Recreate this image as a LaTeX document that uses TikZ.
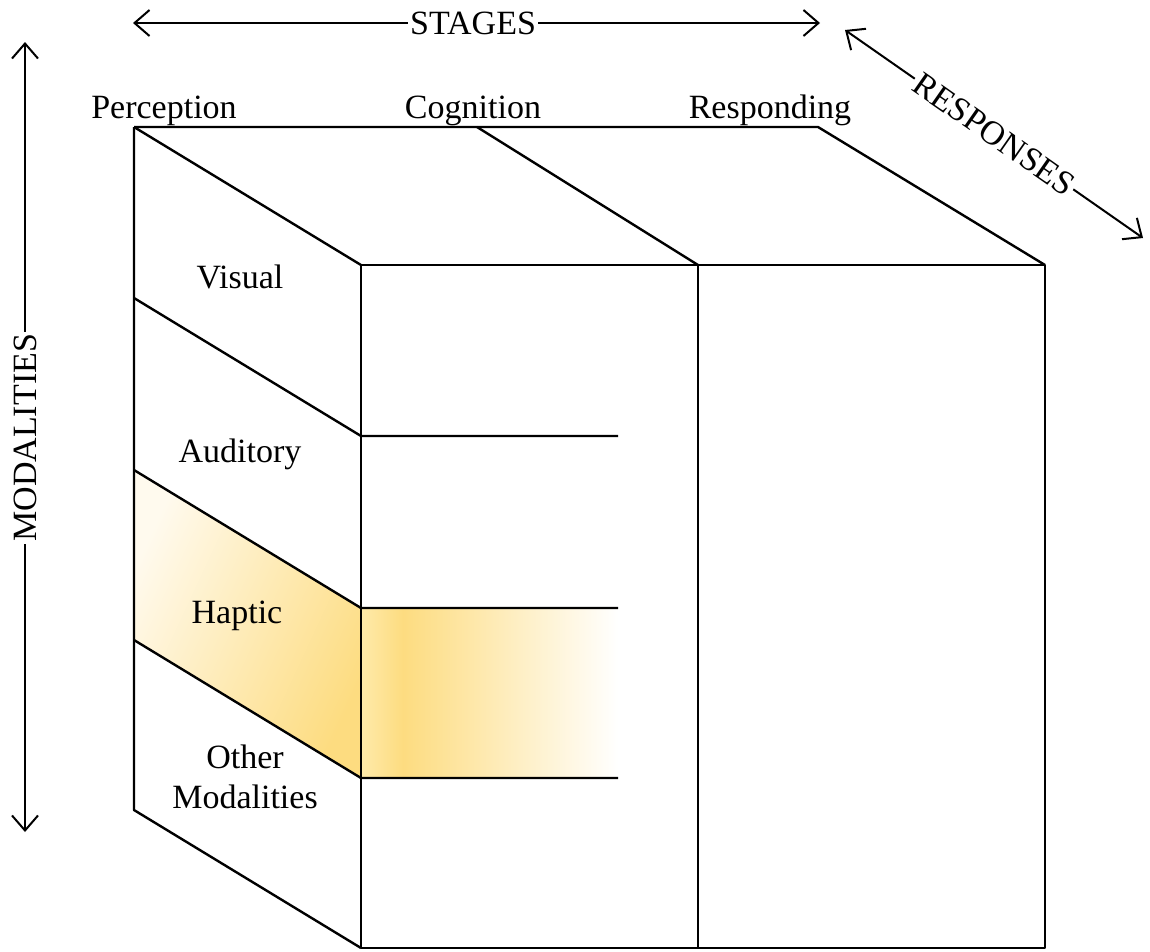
\documentclass[tikz,border=0pt]{standalone}
\usepackage{fontspec}
\setmainfont{Liberation Serif}
\usetikzlibrary{arrows.meta}
\definecolor{gold}{HTML}{FDDC80}
\definecolor{paleA}{HTML}{FEEAAA}
\definecolor{paleB}{HTML}{FFFAEE}
\tikzset{
  edge/.style={line width=2.4pt, line join=round},
  dim/.style={line width=2pt, {Straight Barb[length=15pt,width=26pt,line width=2pt]}-{Straight Barb[length=15pt,width=26pt,line width=2pt]}},
  lab/.style={font=\fontsize{34}{40}\selectfont, inner sep=0pt, anchor=base},
  axlab/.style={font=\fontsize{34}{40}\selectfont, fill=white, inner xsep=2pt, inner ysep=0pt}
}
\begin{document}
\begin{tikzpicture}[x=1pt,y=1pt]
\useasboundingbox (0,0) rectangle (1150,-951);
% cube corners
\coordinate (btl) at (134,-127);
\coordinate (btr) at (818,-127);
\coordinate (bmid) at (477,-127);
\coordinate (ftl) at (361,-265);
\coordinate (ftm) at (698,-265);
\coordinate (ftr) at (1045,-265);
\coordinate (fbl) at (361,-948);
\coordinate (fbm) at (698,-948);
\coordinate (fbr) at (1045,-948);
\coordinate (bbl) at (134,-810);
% modality boundaries
\coordinate (l1) at (134,-298); \coordinate (r1) at (361,-436); \coordinate (e1) at (618,-436);
\coordinate (l2) at (134,-470); \coordinate (r2) at (361,-608); \coordinate (e2) at (618,-608);
\coordinate (l3) at (134,-640); \coordinate (r3) at (361,-778); \coordinate (e3) at (618,-778);
% haptic highlight
\shade[left color=paleB, right color=gold, shading angle=65] (l2) -- (r2) -- (r3) -- (l3) -- cycle;
\shade[left color=paleA, right color=gold] (361,-608) rectangle (403.5,-778);
\shade[left color=gold, middle color=gold!62!white, right color=white] (403,-608) rectangle (618,-778);
% cube edges
\draw[edge] (btl) -- (btr) -- (ftr);
\draw[edge] (btl) -- (ftl);
\draw[edge] (bmid) -- (ftm);
\draw[edge] (btl) -- (bbl) -- (fbl);
\draw[edge] (ftl) rectangle (fbr);
\draw[edge] (ftm) -- (fbm);
\draw[edge] (l1) -- (r1) -- (e1);
\draw[edge] (l2) -- (r2) -- (e2);
\draw[edge] (l3) -- (r3) -- (e3);
% stage labels
\node[lab] (perc) at (164,-118) {Perception};
\node[lab] (cogn) at (473,-118) {Cognition};
\node[lab] (resp) at (770,-118) {Responding};
% modality labels
\node[lab] (vis) at (240,-288) {Visual};
\node[lab] (aud) at (240,-462) {Auditory};
\node[lab] (hap) at (237,-623) {Haptic};
\node[lab] (oth) at (245,-768) {Other};
\node[lab] (mod) at (245,-808) {Modalities};
% dimension arrows
\coordinate (sA) at (133,-23);
\coordinate (sB) at (820,-23);
\draw[dim] (sA) -- node[axlab, pos=0.495] (stg) {STAGES} (sB);
\coordinate (mA) at (25,-42);
\coordinate (mB) at (25,-832);
\draw[dim] (mA) -- node[axlab, rotate=90, pos=0.501] (mdl) {MODALITIES} (mB);
\coordinate (rA) at (845,-30);
\coordinate (rB) at (1143,-238);
\draw[dim] (rA) -- node[axlab, sloped, pos=0.5] (rsp) {RESPONSES} (rB);
\end{tikzpicture}
\end{document}
